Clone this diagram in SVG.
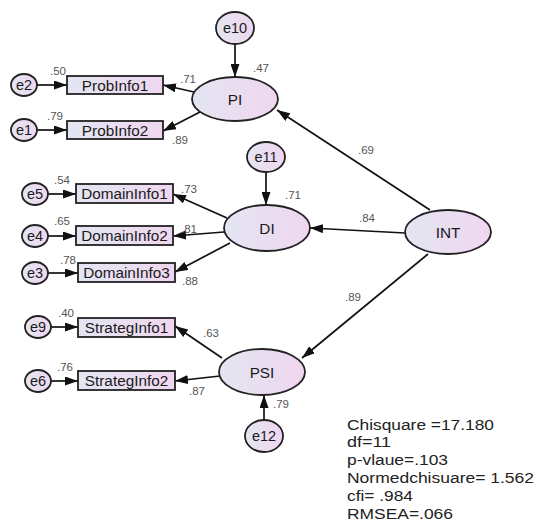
<svg xmlns="http://www.w3.org/2000/svg" width="537" height="523" viewBox="0 0 537 523">
<defs>
<linearGradient id="g" x1="0" y1="0" x2="1" y2="0">
<stop offset="0" stop-color="#e3e6f2"/>
<stop offset="1" stop-color="#f0d6f0"/>
</linearGradient>
<marker id="ah" markerUnits="userSpaceOnUse" markerWidth="13" markerHeight="9" refX="13" refY="4.5" orient="auto">
<path d="M0,0 L13,4.5 L0,9 z" fill="#111"/>
</marker>
</defs>
<style>
.n{fill:url(#g);stroke:#222;stroke-width:1.8}
.t{font-family:"Liberation Sans",Arial,sans-serif;font-size:15.3px;fill:#1a1a1a;text-anchor:middle}
.e{font-family:"Liberation Sans",Arial,sans-serif;font-size:14.5px;fill:#1a1a1a;text-anchor:middle}
.w{font-family:"Liberation Sans",Arial,sans-serif;font-size:11.5px;fill:#555}
.s{font-family:"Liberation Sans",Arial,sans-serif;font-size:15.4px;fill:#222}
.c line{stroke:#111;stroke-width:1.7;marker-end:url(#ah)}
</style>
<rect width="537" height="523" fill="#fff"/>
<g class="c" id="connectors">
<line x1="235" y1="44" x2="235" y2="77"/>
<line x1="194" y1="92" x2="163" y2="85"/>
<line x1="200" y1="112" x2="163" y2="131"/>
<line x1="37" y1="85" x2="67" y2="85"/>
<line x1="37" y1="130" x2="67" y2="130"/>
<line x1="266" y1="172" x2="266" y2="205"/>
<line x1="227" y1="218" x2="173" y2="194"/>
<line x1="224" y1="232" x2="173" y2="236"/>
<line x1="230" y1="243" x2="175" y2="272"/>
<line x1="48" y1="194" x2="76" y2="194"/>
<line x1="48" y1="236" x2="76" y2="236"/>
<line x1="48" y1="273" x2="78" y2="273"/>
<line x1="430" y1="210" x2="277" y2="110"/>
<line x1="405" y1="233" x2="310" y2="228"/>
<line x1="428" y1="254" x2="302" y2="358"/>
<line x1="222" y1="358" x2="175" y2="326"/>
<line x1="220" y1="376" x2="175" y2="381"/>
<line x1="264" y1="420" x2="264" y2="395"/>
<line x1="51" y1="327" x2="78" y2="327"/>
<line x1="51" y1="381" x2="78" y2="381"/>
</g>
<g id="e10"><ellipse class="n" cx="235" cy="28" rx="19" ry="16"/><text class="e" x="235" y="33">e10</text></g>
<g id="PI"><ellipse class="n" cx="235" cy="99" rx="43" ry="22"/><text class="t" x="235" y="105">PI</text></g>
<g id="ProbInfo1"><rect class="n" x="67" y="76" width="96" height="18"/><text class="t" x="115" y="90.5">ProbInfo1</text></g>
<g id="ProbInfo2"><rect class="n" x="67" y="121" width="96" height="18"/><text class="t" x="115" y="135.5">ProbInfo2</text></g>
<g id="e2"><ellipse class="n" cx="24" cy="85" rx="13" ry="11"/><text class="e" x="24" y="90">e2</text></g>
<g id="e1"><ellipse class="n" cx="24" cy="130" rx="13" ry="11"/><text class="e" x="24" y="135">e1</text></g>
<g id="e11"><ellipse class="n" cx="266" cy="157" rx="19" ry="15"/><text class="e" x="266" y="162">e11</text></g>
<g id="DI"><ellipse class="n" cx="267" cy="228" rx="43" ry="23"/><text class="t" x="267" y="234">DI</text></g>
<g id="DomainInfo1"><rect class="n" x="76" y="184" width="97" height="19"/><text class="t" x="124.5" y="199">DomainInfo1</text></g>
<g id="DomainInfo2"><rect class="n" x="76" y="226" width="97" height="19"/><text class="t" x="124.5" y="241">DomainInfo2</text></g>
<g id="DomainInfo3"><rect class="n" x="78" y="263" width="97" height="19"/><text class="t" x="126.5" y="278">DomainInfo3</text></g>
<g id="e5"><ellipse class="n" cx="35" cy="194" rx="13" ry="11"/><text class="e" x="35" y="199">e5</text></g>
<g id="e4"><ellipse class="n" cx="35" cy="236" rx="13" ry="11"/><text class="e" x="35" y="241">e4</text></g>
<g id="e3"><ellipse class="n" cx="35" cy="273" rx="13" ry="11"/><text class="e" x="35" y="278">e3</text></g>
<g id="INT"><ellipse class="n" cx="448" cy="232" rx="43" ry="22"/><text class="t" x="448" y="238">INT</text></g>
<g id="StrategInfo1"><rect class="n" x="78" y="318" width="97" height="19"/><text class="t" x="126.5" y="333">StrategInfo1</text></g>
<g id="StrategInfo2"><rect class="n" x="78" y="371" width="97" height="19"/><text class="t" x="126.5" y="386">StrategInfo2</text></g>
<g id="e9"><ellipse class="n" cx="38" cy="327" rx="13" ry="11"/><text class="e" x="38" y="332">e9</text></g>
<g id="e6"><ellipse class="n" cx="38" cy="381" rx="13" ry="11"/><text class="e" x="38" y="386">e6</text></g>
<g id="PSI"><ellipse class="n" cx="262" cy="372" rx="43" ry="23"/><text class="t" x="262" y="378">PSI</text></g>
<g id="e12"><ellipse class="n" cx="264" cy="436" rx="19" ry="16"/><text class="e" x="264" y="441">e12</text></g>
<g id="weights">
<text class="w" x="50" y="75">.50</text>
<text class="w" x="47" y="120">.79</text>
<text class="w" x="180" y="83">.71</text>
<text class="w" x="172" y="144">.89</text>
<text class="w" x="253" y="72">.47</text>
<text class="w" x="54" y="184">.54</text>
<text class="w" x="54" y="225">.65</text>
<text class="w" x="60" y="264">.78</text>
<text class="w" x="181" y="193">.73</text>
<text class="w" x="181" y="233">.81</text>
<text class="w" x="182" y="285">.88</text>
<text class="w" x="285" y="199">.71</text>
<text class="w" x="358" y="154">.69</text>
<text class="w" x="359" y="222">.84</text>
<text class="w" x="345" y="301">.89</text>
<text class="w" x="58" y="317">.40</text>
<text class="w" x="57" y="371">.76</text>
<text class="w" x="203" y="337">.63</text>
<text class="w" x="189" y="395">.87</text>
<text class="w" x="273" y="408">.79</text>
</g>
<g id="fit">
<text class="s" x="347" y="429.5" textLength="147" lengthAdjust="spacingAndGlyphs">Chisquare =17.180</text>
<text class="s" x="347" y="447.3" textLength="44" lengthAdjust="spacingAndGlyphs">df=11</text>
<text class="s" x="347" y="465.1" textLength="101" lengthAdjust="spacingAndGlyphs">p-vlaue=.103</text>
<text class="s" x="347" y="482.9" textLength="187" lengthAdjust="spacingAndGlyphs">Normedchisuare= 1.562</text>
<text class="s" x="347" y="500.7" textLength="66" lengthAdjust="spacingAndGlyphs">cfi= .984</text>
<text class="s" x="347" y="518.5" textLength="106" lengthAdjust="spacingAndGlyphs">RMSEA=.066</text>
</g>
</svg>
